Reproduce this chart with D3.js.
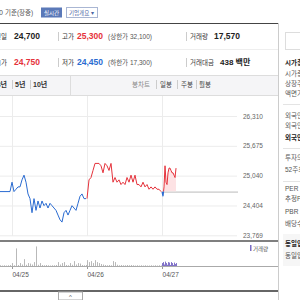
<!DOCTYPE html>
<html>
<head>
<meta charset="utf-8">
<script src="https://cdn.jsdelivr.net/npm/d3@7"></script>
<style>
  body { margin: 0; background: #fff; }
  svg { display: block; font-family: "Liberation Sans", "Noto Sans CJK KR", sans-serif; }
</style>
</head>
<body>
<svg id="chart" width="300" height="300"></svg>
<script>
// ---- data ----
const yTicks = [23769, 24404, 25040, 25675, 26310];
const dayTicks = [1, 2, 3];
const dayLabels = ['04/25', '04/26', '04/27'];
const prevClose = 24700;

// price samples per trading session (day index as time unit)
const day1Start = 0.84, day1Step = 2 / 75;
const day1Price = [24700, 24700, 24700, 24700, 24700, 24700, 24900, 24700, 24750, 24800,
  24800, 24950, 25050, 24900, 24650, 24550, 24250, 24550, 24300, 24500,
  24350, 24500, 24400, 24450, 24350, 24450, 24400, 24350, 24300, 24200,
  24100, 24050, 24250, 24300, 24200, 24300, 24400, 24350, 24300, 24450,
  24600, 24650, 24550, 24550];
const day1Volume = [300, 200, 300, 200, 300, 400, 1200, 300, 7200, 400,
  1200, 600, 2800, 500, 1200, 1000, 600, 1600, 8000, 500,
  1200, 400, 300, 400, 300, 200, 300, 300, 400, 1600,
  600, 1200, 1600, 400, 300, 1200, 500, 2000, 600, 1200,
  1000, 400, 300, 400];

const day2Start = 2.0, day2Step = 2 / 75;
const day2Price = [24550, 24950, 25000, 25150, 25300, 25300, 25300, 25250, 25100, 25300,
  25250, 25150, 25300, 24900, 25000, 24900, 24950, 24850, 24900, 24850,
  25000, 24900, 25050, 24900, 25050, 24850, 24850, 24800, 24900, 24800,
  24850, 24750, 24800, 24750, 24800, 24750, 24750, 24700];
const day2Volume = [2400, 1600, 2000, 1200, 2400, 1600, 1200, 800, 600, 400,
  300, 400, 300, 2000, 1600, 500, 300, 400, 300, 300,
  400, 300, 400, 300, 200, 300, 200, 300, 200, 300,
  200, 200, 300, 200, 300, 200, 300, 200];

const day3Start = 3.0, day3Step = 1 / 75;
const day3Price = [24700, 24600, 24800, 25250, 24900, 24850, 25100, 25200, 25200, 25150,
  25100, 25100, 25050, 25000, 25200];
const day3Volume = [1200, 1600, 600, 1800, 1200, 500, 1600, 1400, 400, 1600,
  1200, 400, 1400, 800, 1200];

const sidebarItems = [
  ['시가총액', true], ['시가총액순위', false], ['상장주식수', false], ['액면가 | 매매단위', false],
  ['외국인한도주식수(A)', false], ['외국인보유주식수(B)', false], ['외국인소진율(B/A)', true],
  ['투자의견 | 목표주가', false], ['52주최고 | 최저', false],
  ['PER | EPS(2023.03)', false], ['추정PER | EPS', false], ['PBR | BPS (2023.03)', false], ['배당수익률', false],
  ['동일업종 PER', true], ['동일업종 등락률', false]
];
const sidebarY = [65, 76, 86, 96, 118, 128, 140, 160, 172, 191, 201, 214, 226, 246, 258];

const red = '#e5323b', blue = '#2a6bd1';

const svg = d3.select('#chart');

function txt(x, y, s, o) {
  o = o || {};
  return svg.append('text')
    .attr('x', x).attr('y', y)
    .attr('text-anchor', o.anchor || 'start')
    .attr('font-size', o.size || 6.5)
    .attr('font-weight', o.bold ? 'bold' : 'normal')
    .attr('fill', o.fill || '#333')
    .text(s);
}
function hline(x1, x2, y, c, w) {
  svg.append('line').attr('x1', x1).attr('x2', x2).attr('y1', y).attr('y2', y)
    .attr('stroke', c).attr('stroke-width', w || 1);
}
function vline(x, y1, y2, c) {
  svg.append('line').attr('x1', x).attr('x2', x).attr('y1', y1).attr('y2', y2)
    .attr('stroke', c).attr('stroke-width', 1);
}

// ---- header ----
txt(3, 15, '09:20', { anchor: 'end', size: 7, fill: '#555' });
txt(5, 15, '기준(장중)', { fill: '#555' });
svg.append('rect').attr('x', 41).attr('y', 7.5).attr('width', 21).attr('height', 10).attr('fill', '#5b79b8');
txt(51.5, 15, '실시간', { anchor: 'middle', size: 5.5, fill: '#fff' });
svg.append('rect').attr('x', 66.5).attr('y', 7.5).attr('width', 31).attr('height', 10)
  .attr('fill', '#fff').attr('stroke', '#a9b6d3');
txt(69, 15, '기업개요 ▾', { size: 5.5, fill: '#4c66a3' });

hline(0, 278, 23.5, '#444');
hline(0, 278, 49.5, '#eee');

// row 1
txt(7, 39, '전일', { anchor: 'end' });
txt(14, 39, '24,700', { size: 8.5, bold: true, fill: '#222' });
vline(58.5, 32, 41, '#ccc');
txt(62, 39, '고가');
txt(77, 39, '25,300', { size: 8.5, bold: true, fill: red });
txt(108, 39, '(상한가 32,100)', { fill: '#555' });
vline(186.5, 32, 41, '#ccc');
txt(190, 39, '거래량');
txt(214, 39, '17,570', { size: 8.5, bold: true, fill: '#222' });

// row 2
txt(7, 65, '시가', { anchor: 'end' });
txt(14, 65, '24,750', { size: 8.5, bold: true, fill: red });
vline(58.5, 58, 67, '#ccc');
txt(62, 65, '저가');
txt(77, 65, '24,450', { size: 8.5, bold: true, fill: blue });
txt(108, 65, '(하한가 17,300)', { fill: '#555' });
vline(186.5, 58, 67, '#ccc');
txt(190, 65, '거래대금');
txt(220, 65, '438 백만', { size: 8, bold: true, fill: '#222' });

// row 3 (period tabs)
svg.append('rect').attr('x', 0).attr('y', 75).attr('width', 278).attr('height', 20).attr('fill', '#f5f5f7');
hline(0, 278, 75.5, '#ddd');
hline(0, 278, 95.5, '#ddd');
txt(7, 87, '3년', { anchor: 'end', size: 7, bold: true });
vline(12.5, 80, 89, '#ccc');
txt(15, 87, '5년', { size: 7, bold: true });
vline(30.5, 80, 89, '#ccc');
txt(33, 87, '10년', { size: 7, bold: true });
vline(70.5, 75, 95, '#ddd');
txt(132, 87, '봉차트', { size: 6.5, fill: '#888' });
vline(156.5, 80, 89, '#ccc');
txt(160, 87, '일봉', { size: 6.5, fill: '#444' });
vline(177.5, 80, 89, '#ccc');
txt(181, 87, '주봉', { size: 6.5, fill: '#444' });
vline(196.5, 80, 89, '#ccc');
txt(199, 87, '월봉', { size: 6.5, fill: '#444' });

// ---- chart scales ----
const x = d3.scaleLinear().domain([0.84, 4.013]).range([0, 238]);
const y = d3.scaleLinear().domain([23769, 26310]).range([235.3, 116]);
const yv = d3.scaleLinear().domain([0, 9000]).range([266, 244]);

function toPoints(start, step, prices, vols) {
  return prices.map((p, i) => ({ t: start + i * step, p: p, v: vols[i] }));
}
const seg1 = toPoints(day1Start, day1Step, day1Price, day1Volume);
const seg2 = toPoints(day2Start, day2Step, day2Price, day2Volume);
const seg3 = toPoints(day3Start, day3Step, day3Price, day3Volume);

// horizontal grid + price labels
const yAxis = svg.append('g')
  .call(d3.axisRight(y).tickValues(yTicks).tickSize(237).tickPadding(6).tickFormat(d3.format(',')));
yAxis.select('.domain').remove();
yAxis.selectAll('line').attr('stroke', '#ececec');
yAxis.selectAll('text').attr('fill', '#666').attr('font-size', 6.5).attr('font-family', 'Liberation Sans, sans-serif');

// vertical grid
const xGrid = svg.append('g').attr('transform', 'translate(0,236)')
  .call(d3.axisBottom(x).tickValues(dayTicks).tickSize(-140).tickFormat(''));
xGrid.select('.domain').remove();
xGrid.selectAll('line').attr('stroke', '#ececec');

// previous close reference
hline(x(3), 238, y(prevClose) + 0.5, '#bbb');

// day 3 fill above prev close
svg.append('clipPath').attr('id', 'above').append('rect')
  .attr('x', 0).attr('y', 96).attr('width', 238).attr('height', y(prevClose) - 96);
svg.append('clipPath').attr('id', 'below').append('rect')
  .attr('x', 0).attr('y', y(prevClose)).attr('width', 238).attr('height', 236 - y(prevClose));

const area = d3.area().x(d => x(d.t)).y0(y(prevClose)).y1(d => y(d.p));
svg.append('path').datum(seg3).attr('d', area).attr('fill', '#fde2e4').attr('clip-path', 'url(#above)');

const line = d3.line().x(d => x(d.t)).y(d => y(d.p));
svg.append('path').datum(seg1).attr('d', line).attr('fill', 'none').attr('stroke', blue).attr('stroke-width', 1);
svg.append('path').datum(seg2).attr('d', line).attr('fill', 'none').attr('stroke', red).attr('stroke-width', 1);
svg.append('path').datum(seg3).attr('d', line).attr('fill', 'none').attr('stroke', red).attr('stroke-width', 1)
  .attr('clip-path', 'url(#above)');
svg.append('path').datum(seg3).attr('d', line).attr('fill', 'none').attr('stroke', blue).attr('stroke-width', 1.2)
  .attr('clip-path', 'url(#below)');

// ---- volume panel ----
hline(0, 278, 241, '#555', 1.5);
const volBars = svg.append('g');
[[seg1, '#b9b9b9'], [seg2, '#b9b9b9'], [seg3, '#8273c9']].forEach(([seg, c]) => {
  volBars.selectAll(null).data(seg).enter().append('rect')
    .attr('x', d => Math.round(x(d.t)))
    .attr('y', d => yv(d.v))
    .attr('width', 1)
    .attr('height', d => yv(0) - yv(d.v))
    .attr('fill', c);
});

const xAxis = svg.append('g').attr('transform', 'translate(0,266)')
  .call(d3.axisBottom(x).tickValues(dayTicks).tickSize(3).tickPadding(3)
    .tickFormat((d, i) => dayLabels[i]));
xAxis.select('.domain').remove();
xAxis.selectAll('line').attr('stroke', '#999');
xAxis.selectAll('text').attr('text-anchor', 'start').attr('fill', '#555')
  .attr('font-size', 6.5).attr('font-family', 'Liberation Sans, sans-serif');
hline(0, 278, 266.5, '#aaa');

svg.append('rect').attr('x', 250).attr('y', 245).attr('width', 1.5).attr('height', 6).attr('fill', '#7a6cc4');
txt(253, 251, '거래량', { size: 5.5, fill: '#555' });

hline(0, 278, 291, '#333', 1.5);
svg.append('rect').attr('x', 58.5).attr('y', 292).attr('width', 24).attr('height', 8)
  .attr('fill', '#fff').attr('stroke', '#aaa');
txt(70.5, 299, '^', { anchor: 'middle', size: 6, fill: '#555' });

// ---- right side panel ----
vline(278.5, 23, 300, '#ccc');
svg.append('rect').attr('x', 285.5).attr('y', 32.5).attr('width', 20).attr('height', 17)
  .attr('fill', '#fff').attr('stroke', '#ddd');
svg.append('rect').attr('x', 283).attr('y', 234).attr('width', 20).attr('height', 32).attr('fill', '#f6f6f6');
[104, 148, 181].forEach(v => hline(283, 300, v + 0.5, '#e4e4e4'));
sidebarItems.forEach((it, i) => {
  txt(285, sidebarY[i], it[0], { size: 6.5, bold: it[1], fill: it[1] ? '#222' : '#555' });
});
</script>
</body>
</html>
